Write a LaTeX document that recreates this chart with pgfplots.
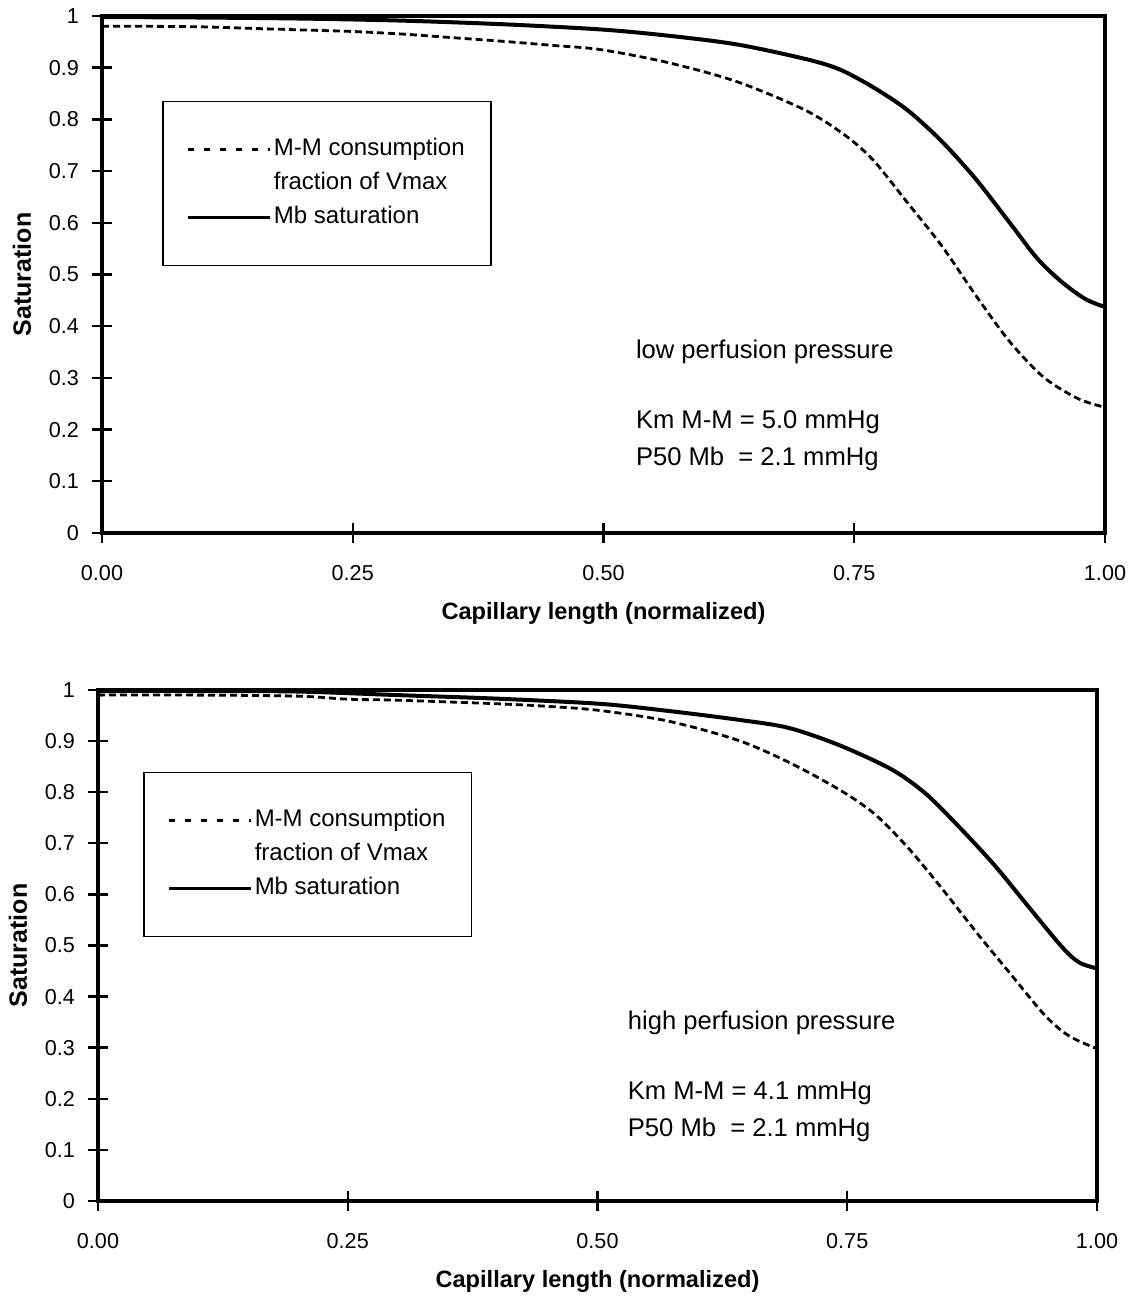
\documentclass[border=0pt]{standalone}
\usepackage{pgfplots}
\pgfplotsset{compat=1.18}
\usepackage{fontspec}
\setmainfont{Liberation Sans}
\pgfplotstableread{
x y
0 0.980
0.05 0.980
0.10 0.979
0.15 0.976
0.20 0.973
0.25 0.970
0.30 0.965
0.35 0.958
0.40 0.951
0.45 0.943
0.497 0.935
0.564 0.910
0.633 0.873
0.701 0.818
0.741 0.769
0.769 0.721
0.803 0.639
0.837 0.556
0.871 0.460
0.905 0.370
0.939 0.301
0.973 0.260
1.0 0.243
}\topdash
\pgfplotstableread{
x y
0 0.998
0.1 0.997
0.2 0.995
0.3 0.991
0.4 0.984
0.497 0.974
0.564 0.962
0.633 0.945
0.701 0.917
0.735 0.897
0.769 0.862
0.803 0.818
0.837 0.758
0.871 0.685
0.905 0.600
0.932 0.532
0.956 0.487
0.980 0.453
1.0 0.437
}\topsolid
\pgfplotstableread{
x y
0 0.990
0.1 0.990
0.2 0.988
0.25 0.982
0.3 0.980
0.4 0.973
0.45 0.968
0.502 0.960
0.571 0.939
0.640 0.902
0.691 0.859
0.742 0.805
0.777 0.758
0.811 0.691
0.845 0.611
0.880 0.524
0.914 0.443
0.948 0.363
0.972 0.323
1.0 0.298
}\botdash
\pgfplotstableread{
x y
0 0.998
0.1 0.998
0.2 0.997
0.3 0.990
0.4 0.983
0.502 0.973
0.571 0.959
0.640 0.942
0.691 0.926
0.742 0.892
0.794 0.845
0.828 0.798
0.862 0.732
0.897 0.658
0.931 0.577
0.965 0.497
0.982 0.467
1.0 0.455
}\botsolid
\pgfplotsset{
  myaxis/.style={
    scale only axis,
    anchor=south west,
    xmin=0, xmax=1, ymin=0, ymax=1,
    xtick={0,0.25,0.5,0.75,1},
    ytick={0,0.1,...,1},
    xticklabel style={/pgf/number format/fixed,/pgf/number format/fixed zerofill,/pgf/number format/precision=2,yshift=-7.5pt},
    yticklabel style={/pgf/number format/fixed,/pgf/number format/precision=1,xshift=-3pt},
    /pgf/number format/assume math mode=true,
    ticklabel style={font=\fontsize{10.8}{12}\selectfont},
    xtick pos=bottom, ytick pos=left,
    tick align=center,
    major tick length=10pt,
    tick style={line width=1.2pt, black},
    axis line style={line width=1.7pt},
    label style={font=\bfseries\fontsize{11.8}{13}\selectfont},
    xlabel={Capillary length (normalized)},
    ylabel={Saturation},
    xlabel style={at={(axis description cs:0.5,0)}, anchor=center, yshift=-40pt},
    ylabel style={at={(axis description cs:0,0.5)}, anchor=center, yshift=40pt, font=\bfseries\fontsize{12.5}{14}\selectfont},
    legend cell align=left,
    legend style={draw=black, line width=0.8pt, font=\fontsize{12}{14}\selectfont,
      nodes={inner sep=1pt, text height=9pt, text depth=3pt},
      inner xsep=12pt, inner ysep=17pt, anchor=north west, row sep=3pt},
    clip=false,
  },
  dashcurve/.style={line width=1.4pt, dash pattern=on 3.5pt off 2pt},
  solidcurve/.style={line width=2pt},
  dashleg/.style={legend image code/.code={\draw[line width=1.4pt, dash pattern=on 3pt off 5pt] (0pt,0pt) -- (41pt,0pt);}},
  solidleg/.style={legend image code/.code={\draw[line width=1.5pt] (0pt,0pt) -- (41pt,0pt);}},
}
\begin{document}
\begin{tikzpicture}
\useasboundingbox (0,0) rectangle (567.5pt,648.5pt);
\begin{axis}[myaxis, at={(51pt,382pt)}, width=501.5pt, height=258.5pt,
  legend style={at={(axis cs:0.06,0.836)}}]
\addplot[dashcurve, smooth, dashleg] table[x=x,y=y] {\topdash};
\addlegendentry{M-M consumption}
\addlegendimage{empty legend}
\addlegendentry{fraction of Vmax}
\addplot[solidcurve, smooth, solidleg] table[x=x,y=y] {\topsolid};
\addlegendentry{Mb saturation}
\node[anchor=west, inner sep=0pt, font=\fontsize{12.8}{14}\selectfont] at (axis cs:0.532,0.350) {low perfusion pressure};
\node[anchor=west, inner sep=0pt, font=\fontsize{12.8}{14}\selectfont] at (axis cs:0.532,0.215) {Km M-M = 5.0 mmHg};
\node[anchor=west, inner sep=0pt, font=\fontsize{12.8}{14}\selectfont] at (axis cs:0.532,0.143) {P50 Mb~ = 2.1 mmHg};
\end{axis}
\begin{axis}[myaxis, at={(49pt,48pt)}, width=499.5pt, height=255.5pt,
  legend style={at={(axis cs:0.045,0.84)}}]
\addplot[dashcurve, smooth, dashleg] table[x=x,y=y] {\botdash};
\addlegendentry{M-M consumption}
\addlegendimage{empty legend}
\addlegendentry{fraction of Vmax}
\addplot[solidcurve, smooth, solidleg] table[x=x,y=y] {\botsolid};
\addlegendentry{Mb saturation}
\node[anchor=west, inner sep=0pt, font=\fontsize{12.8}{14}\selectfont] at (axis cs:0.53,0.348) {high perfusion pressure};
\node[anchor=west, inner sep=0pt, font=\fontsize{12.8}{14}\selectfont] at (axis cs:0.53,0.211) {Km M-M = 4.1 mmHg};
\node[anchor=west, inner sep=0pt, font=\fontsize{12.8}{14}\selectfont] at (axis cs:0.53,0.139) {P50 Mb~ = 2.1 mmHg};
\end{axis}
\end{tikzpicture}
\end{document}
